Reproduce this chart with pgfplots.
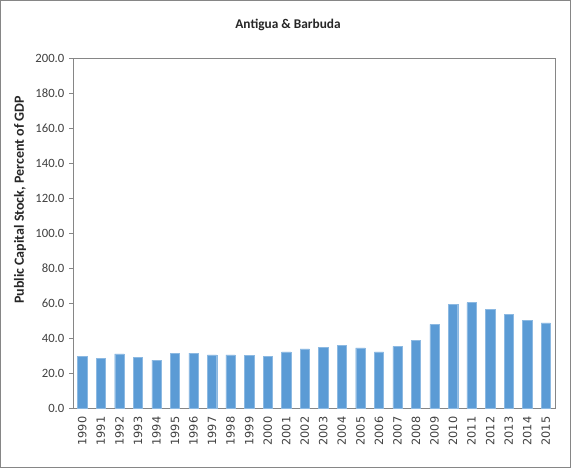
\documentclass[border=0pt]{standalone}
\usepackage{fontspec}
\setmainfont{Carlito}
\newfontfamily\tickfont{DejaVu Sans}
\usepackage{pgfplots}
\pgfplotsset{compat=1.18}
\definecolor{barblue}{HTML}{5B9BD5}
\definecolor{axisgray}{HTML}{868686}
\definecolor{textgray}{HTML}{404040}
\begin{document}
\begin{tikzpicture}
\begin{axis}[
    scale only axis,
    width=361.5pt,
    height=262.5pt,
    ymin=0, ymax=200,
    ytick={0,20,...,200},
    xmin=-0.5, xmax=25.5,
    xtick={0,...,25},
    xticklabels={1990,1991,1992,1993,1994,1995,1996,1997,1998,1999,2000,2001,2002,2003,2004,2005,2006,2007,2008,2009,2010,2011,2012,2013,2014,2015},
    x tick label style={rotate=90, anchor=east, font=\tickfont\fontsize{8.5}{10}\selectfont, text=textgray},
    y tick label style={font=\fontsize{9.5}{11}\selectfont, text=textgray},
    /pgf/number format/assume math mode=true,
    yticklabel={\pgfmathprintnumber[fixed,fixed zerofill,precision=1]{\tick}},
    axis line style={axisgray},
    tick style={axisgray, line width=0.6pt},
    tick align=outside,
    major tick length=3pt,
    x tick style={draw=none},
    extra x ticks={-0.5,0.5,...,25.5},
    extra x tick labels={},
    extra x tick style={major tick length=3.5pt, tick style={draw=axisgray, line width=0.6pt}},
    ytick pos=left,
    xtick pos=bottom,
    clip=false,
]
\addplot[ybar, bar width=0.5, fill=barblue, draw=barblue!70!white, line width=0.3pt]
coordinates {
    (0,29.5) (1,28.4) (2,30.9) (3,29.0) (4,27.4) (5,31.4) (6,31.4)
    (7,30.3) (8,30.3) (9,29.9) (10,29.5) (11,32.0) (12,33.7) (13,34.7)
    (14,35.6) (15,34.3) (16,32.0) (17,35.2) (18,38.5) (19,47.8) (20,59.2)
    (21,60.2) (22,56.4) (23,53.5) (24,50.1) (25,48.6)
};
% chart frame, title and axis label
\draw[axisgray, line width=0.75pt]
    ([shift={(-54.4pt,-44.6pt)}]rel axis cs:0,0) rectangle
    ([shift={(11.6pt,43.1pt)}]rel axis cs:1,1);
\node[font=\bfseries\fontsize{10}{12}\selectfont, text=black!85]
    at ([shift={(161.25pt,24.75pt)}]rel axis cs:0,1) {Antigua \& Barbuda};
\node[font=\bfseries\fontsize{10.5}{12}\selectfont, rotate=90, text=black!85]
    at ([shift={(-39.75pt,156pt)}]rel axis cs:0,0) {Public Capital Stock, Percent of GDP};
\end{axis}
\end{tikzpicture}
\end{document}
